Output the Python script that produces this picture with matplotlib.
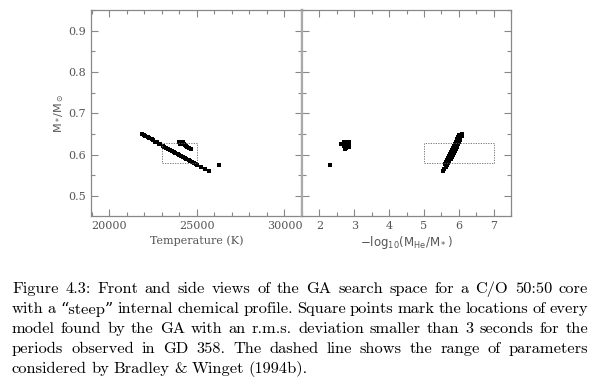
import numpy as np
import matplotlib
matplotlib.use("Agg")
import matplotlib.pyplot as plt
from matplotlib.ticker import MultipleLocator

# models found by the GA: mass, temperature, -log10(M_He/M*)
mass = [0.650, 0.647, 0.645, 0.642, 0.640, 0.637, 0.635, 0.632, 0.630, 0.627,
        0.625, 0.622, 0.620, 0.617, 0.615, 0.612, 0.610, 0.607, 0.605, 0.602,
        0.600, 0.597, 0.595, 0.592, 0.590, 0.587, 0.585, 0.582, 0.580, 0.577,
        0.575, 0.570, 0.565, 0.560,
        0.630, 0.630, 0.630, 0.627, 0.627, 0.627, 0.624, 0.622, 0.620, 0.617, 0.614,
        0.575]
temp = [21850, 21990, 22060, 22200, 22270, 22410, 22490, 22620, 22700, 22840,
        22910, 23040, 23120, 23260, 23340, 23470, 23550, 23690, 23760, 23890,
        23970, 24110, 24180, 24320, 24400, 24530, 24610, 24740, 24820, 24960,
        25030, 25240, 25460, 25670,
        24000, 24100, 24200, 24050, 24150, 24250, 24300, 24350, 24450, 24550, 24680,
        26260]
logq = [6.09, 6.02, 6.08, 5.97, 6.05, 5.94, 6.03, 5.92, 6.00, 5.89,
        5.98, 5.86, 5.95, 5.83, 5.92, 5.80, 5.89, 5.77, 5.86, 5.74,
        5.83, 5.71, 5.80, 5.68, 5.77, 5.66, 5.73, 5.63, 5.70, 5.61,
        5.66, 5.62, 5.57, 5.54,
        2.70, 2.78, 2.85, 2.62, 2.75, 2.85, 2.80, 2.72, 2.85, 2.75, 2.74,
        2.31]

# Bradley & Winget (1994b) range
bw_temp = [23000, 25000]
bw_logq = [5.0, 7.0]
bw_mass = [0.58, 0.628]

caption = [
    "Figure 4.3: Front and side views of the GA search space for a C/O 50:50 core",
    "with a \u201csteep\u201d internal chemical profile. Square points mark the locations of every",
    "model found by the GA with an r.m.s. deviation smaller than 3 seconds for the",
    "periods observed in GD 358.  The dashed line shows the range of parameters",
    "considered by Bradley & Winget (1994b).",
]

W, H = 597, 389
fig = plt.figure(figsize=(W / 100, H / 100), dpi=100)
grey = "#888888"
tick_font = dict(family="DejaVu Serif", size=8, color="#555555")

ax1 = fig.add_axes([91 / W, 1 - 216 / H, 211 / W, 206 / H])
ax2 = fig.add_axes([302 / W, 1 - 216 / H, 209 / W, 206 / H])

ax1.scatter(temp, mass, marker="s", s=7, c="black", linewidths=0)
ax1.plot([bw_temp[0], bw_temp[1], bw_temp[1], bw_temp[0], bw_temp[0]],
         [bw_mass[0], bw_mass[0], bw_mass[1], bw_mass[1], bw_mass[0]],
         ls=(0, (1.5, 1.5)), lw=0.6, color="#666666")
ax1.set_xlim(18950, 31000)
ax1.xaxis.set_major_locator(MultipleLocator(5000))
ax1.xaxis.set_minor_locator(MultipleLocator(1000))

ax2.scatter(logq, mass, marker="s", s=7, c="black", linewidths=0)
ax2.plot([bw_logq[0], bw_logq[1], bw_logq[1], bw_logq[0], bw_logq[0]],
         [bw_mass[0], bw_mass[0], bw_mass[1], bw_mass[1], bw_mass[0]],
         ls=(0, (1.5, 1.5)), lw=0.6, color="#666666")
ax2.set_xlim(1.5, 7.5)
ax2.xaxis.set_major_locator(MultipleLocator(1))
ax2.xaxis.set_minor_locator(MultipleLocator(0.5))

for ax in (ax1, ax2):
    ax.set_ylim(0.452, 0.95)
    ax.yaxis.set_major_locator(MultipleLocator(0.1))
    ax.yaxis.set_minor_locator(MultipleLocator(0.05))
    ax.tick_params(which="both", direction="in", top=True, right=True, color=grey, width=0.8)
    ax.tick_params(which="major", length=5)
    ax.tick_params(which="minor", length=3)
    for sp in ax.spines.values():
        sp.set_color(grey)
        sp.set_linewidth(0.9)
    for lab in ax.get_xticklabels() + ax.get_yticklabels():
        lab.set_fontfamily(tick_font["family"])
        lab.set_fontsize(tick_font["size"])
        lab.set_color(tick_font["color"])

ax1.spines["right"].set_linewidth(1.6)
ax1.spines["right"].set_color("#aaaaaa")
ax2.spines["left"].set_linewidth(1.6)
ax2.spines["left"].set_color("#aaaaaa")
ax2.set_yticklabels([])
ax1.set_yticks([0.5, 0.6, 0.7, 0.8, 0.9])
ax1.set_yticklabels(["0.5", "0.6", "0.7", "0.8", "0.9"], **tick_font)

ax1.set_xlabel("Temperature (K)", fontfamily="DejaVu Serif", fontsize=8, color="#555555", labelpad=3)
ax2.set_xlabel(r"$-\mathrm{log_{10}(M_{He}/M_*)}$", fontsize=8.5, color="#555555", labelpad=2)
ax1.set_ylabel(r"$\mathrm{M_*/M_\odot}$", fontsize=8, color="#555555")
ax1.yaxis.set_label_coords(-0.12, 0.5)

# justified caption
renderer = fig.canvas.get_renderer()
x0, x1 = 12, 588
ys = [289, 309, 329, 349, 369]
cap_font = dict(family=["cmr10", "DejaVu Serif"], size=11.8, color="black")
for i, (line, y) in enumerate(zip(caption, ys)):
    words = line.split()
    texts = [fig.text(0, 1 - y / H, w, va="center", ha="left", **cap_font) for w in words]
    widths = [t.get_window_extent(renderer).width for t in texts]
    if i < len(caption) - 1:
        gap = (x1 - x0 - sum(widths)) / (len(words) - 1)
    else:
        gap = 4.5
    x = x0
    for t, w in zip(texts, widths):
        t.set_x(x / W)
        x += w + gap

fig.savefig("out.png", dpi=100)
